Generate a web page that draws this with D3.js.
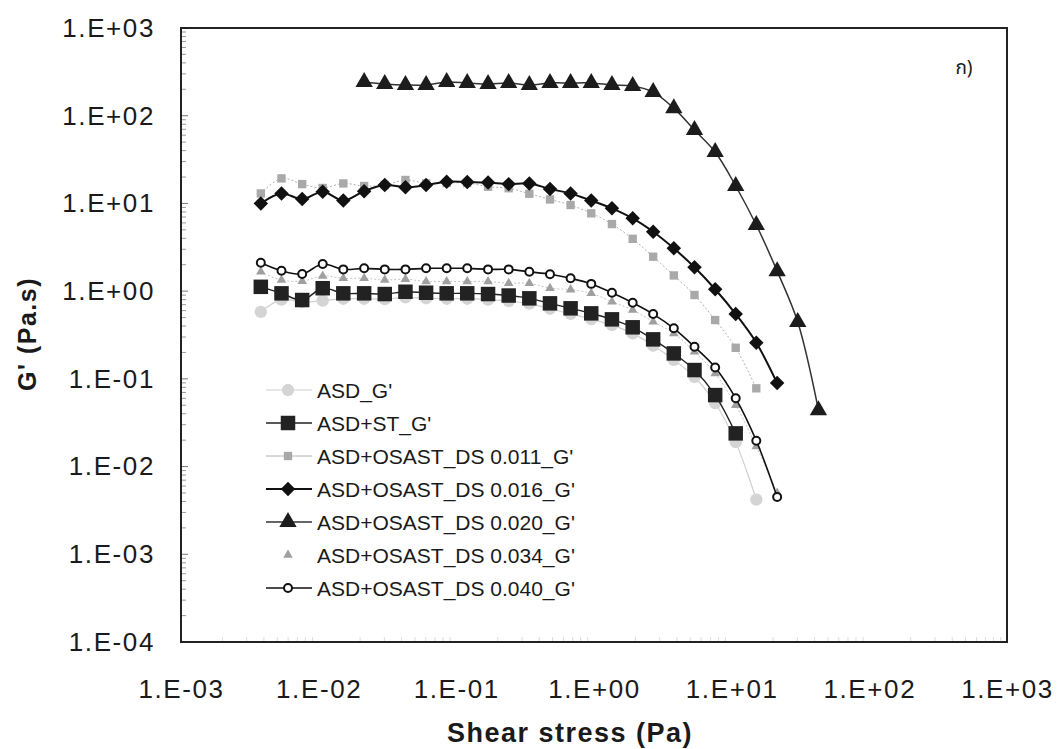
<!DOCTYPE html>
<html>
<head>
    <title>G' vs shear stress</title>
    <script src="https://d3js.org/d3.v7.min.js"></script>
    <style>
        body { margin: 0; background: #fff; }
        text { font-family: "Liberation Sans", Arial, sans-serif; fill: #1a1a1a; }
    </style>
</head>
<body>
<svg width="1062" height="749"></svg>
<script>
    // shear stress steps (Pa) shared by all samples
    const stress = [0.0038, 0.00537, 0.00759, 0.0107, 0.0151, 0.0214, 0.0302, 0.0427, 0.0603, 0.0851,
        0.120, 0.170, 0.240, 0.339, 0.479, 0.676, 0.955, 1.35, 1.91, 2.69,
        3.80, 5.37, 7.59, 10.7, 15.1, 21.4, 30.2, 42.7];

    const asd = [0.58, 0.80, 0.75, 0.78, 0.82, 0.82, 0.81, 0.85, 0.83, 0.82, 0.82, 0.80, 0.77, 0.72, 0.63,
        0.55, 0.48, 0.41, 0.33, 0.24, 0.165, 0.105, 0.053, 0.019, 0.0042, null, null, null];
    const asdSt = [1.12, 0.944, 0.792, 1.08, 0.944, 0.944, 0.927, 0.984, 0.959, 0.944, 0.944, 0.927, 0.891,
        0.828, 0.726, 0.637, 0.558, 0.477, 0.387, 0.282, 0.195, 0.126, 0.0653, 0.0239, null, null, null, null];
    const ds011 = [13.0, 19.3, 16.6, 15.0, 16.9, 15.8, 16.2, 18.5, 16.9, 17.1, 17.1, 15.5, 14.9, 12.9, 11.1,
        9.59, 7.71, 5.82, 3.95, 2.47, 1.51, 0.903, 0.468, 0.226, 0.078, null, null, null];
    const ds016 = [10.0, 13.0, 11.2, 13.6, 10.8, 13.8, 16.2, 15.3, 16.2, 17.7, 17.5, 17.3, 16.6, 16.9, 14.6,
        13.0, 10.8, 8.8, 6.76, 4.76, 3.08, 1.87, 1.05, 0.548, 0.258, 0.0895, null, null];
    const ds020 = [null, null, null, null, null, 242, 230, 224, 224, 242, 236, 230, 236, 224, 236, 236, 236,
        224, 218, 186, 122, 68.7, 38.5, 15.8, 5.67, 1.69, 0.444, 0.044];
    const ds034 = [1.66, 1.34, 1.30, 1.49, 1.40, 1.40, 1.34, 1.37, 1.29, 1.29, 1.29, 1.29, 1.23, 1.23, 1.08,
        1.04, 0.944, 0.757, 0.61, 0.448, 0.330, 0.204, 0.115, 0.05, 0.017, 0.005, null, null];
    const ds040 = [2.11, 1.71, 1.57, 2.04, 1.77, 1.82, 1.77, 1.77, 1.82, 1.82, 1.82, 1.77, 1.77, 1.66, 1.56,
        1.40, 1.21, 0.959, 0.738, 0.548, 0.377, 0.232, 0.135, 0.060, 0.0197, 0.0045, null, null];

    const seriesNames = ["ASD_G'", "ASD+ST_G'", "ASD+OSAST_DS 0.011_G'", "ASD+OSAST_DS 0.016_G'",
        "ASD+OSAST_DS 0.020_G'", "ASD+OSAST_DS 0.034_G'", "ASD+OSAST_DS 0.040_G'"];
    const seriesValues = [asd, asdSt, ds011, ds016, ds020, ds034, ds040];

    const xTicks = [1e-3, 1e-2, 1e-1, 1, 1e1, 1e2, 1e3];
    const xTickLabels = ["1.E-03", "1.E-02", "1.E-01", "1.E+00", "1.E+01", "1.E+02", "1.E+03"];
    const yTicks = [1e-4, 1e-3, 1e-2, 1e-1, 1, 1e1, 1e2, 1e3];
    const yTickLabels = ["1.E-04", "1.E-03", "1.E-02", "1.E-01", "1.E+00", "1.E+01", "1.E+02", "1.E+03"];

    // look of each series: marker shape, size, rotation, fill, stroke, line style
    const styles = [
        {shape: d3.symbolCircle, size: 120, rot: 0, fill: "#d4d4d4", stroke: "#d4d4d4", sw: 0, line: "#cfcfcf", lw: 1.2, dash: null},
        {shape: d3.symbolSquare, size: 210, rot: 0, fill: "#222", stroke: "#222", sw: 0, line: "#222", lw: 1.4, dash: null},
        {shape: d3.symbolSquare, size: 70, rot: 0, fill: "#a9a9a9", stroke: "#a9a9a9", sw: 0, line: "#b0b0b0", lw: 1, dash: "2,2"},
        {shape: d3.symbolSquare, size: 105, rot: 45, fill: "#111", stroke: "#111", sw: 0, line: "#111", lw: 2, dash: null},
        {shape: d3.symbolTriangle, size: 130, rot: 0, fill: "#1c1c1c", stroke: "#1c1c1c", sw: 0, line: "#333", lw: 1.5, dash: null},
        {shape: d3.symbolTriangle, size: 40, rot: 0, fill: "#a0a0a0", stroke: "#a0a0a0", sw: 0, line: "#c4c4c4", lw: 1, dash: "2,2"},
        {shape: d3.symbolCircle, size: 50, rot: 0, fill: "#fff", stroke: "#111", sw: 2, line: "#111", lw: 1.6, dash: null}
    ];

    const svg = d3.select("svg");
    const plotLeft = 181, plotRight = 1007, plotTop = 28, plotBottom = 642;

    const x = d3.scaleLog().domain([1e-3, 1e3]).range([plotLeft, plotRight]);
    const y = d3.scaleLog().domain([1e-4, 1e3]).range([plotBottom, plotTop]);

    // minor ticks inside the frame
    const minor = [];
    for (let e = -4; e < 3; e++) for (let m = 2; m <= 9; m++) minor.push(m * Math.pow(10, e));
    svg.append("g").selectAll("line").data(minor).enter().append("line")
        .attr("x1", plotLeft).attr("x2", plotLeft + 5)
        .attr("y1", d => y(d)).attr("y2", d => y(d))
        .attr("stroke", "#999").attr("stroke-width", 1);
    svg.append("g").selectAll("line").data(yTicks).enter().append("line")
        .attr("x1", plotLeft).attr("x2", plotLeft + 7)
        .attr("y1", d => y(d)).attr("y2", d => y(d))
        .attr("stroke", "#777").attr("stroke-width", 1);
    const minorX = [];
    for (let e = -3; e < 3; e++) for (let m = 2; m <= 9; m++) minorX.push(m * Math.pow(10, e));
    svg.append("g").selectAll("line").data(minorX).enter().append("line")
        .attr("x1", d => x(d)).attr("x2", d => x(d))
        .attr("y1", plotBottom).attr("y2", plotBottom - 5)
        .attr("stroke", "#dcdcdc").attr("stroke-width", 1);

    // axes (labels only, frame drawn separately)
    const xAxis = svg.append("g")
        .attr("transform", "translate(0," + plotBottom + ")")
        .call(d3.axisBottom(x).tickValues(xTicks).tickFormat((d, i) => xTickLabels[i]).tickSize(0).tickPadding(38));
    xAxis.select(".domain").remove();
    xAxis.selectAll("text").style("font-size", "26px").style("letter-spacing", "1.6px").attr("fill", "#1a1a1a");

    const yAxis = svg.append("g")
        .attr("transform", "translate(" + plotLeft + ",0)")
        .call(d3.axisLeft(y).tickValues(yTicks).tickFormat((d, i) => yTickLabels[i]).tickSize(0).tickPadding(26));
    yAxis.select(".domain").remove();
    yAxis.selectAll("text").style("font-size", "26px").style("letter-spacing", "1.6px").attr("fill", "#1a1a1a");

    // series
    const line = d3.line()
        .defined(d => d.v != null)
        .x(d => x(d.s))
        .y(d => y(d.v))
        .curve(d3.curveCatmullRom);

    seriesValues.forEach((vals, i) => {
        const st = styles[i];
        const pts = stress.map((s, j) => ({s: s, v: vals[j]}));
        svg.append("path")
            .datum(pts)
            .attr("d", line)
            .attr("fill", "none")
            .attr("stroke", st.line)
            .attr("stroke-width", st.lw)
            .attr("stroke-dasharray", st.dash);
        svg.append("g").selectAll("path")
            .data(pts.filter(d => d.v != null))
            .enter().append("path")
            .attr("transform", d => "translate(" + x(d.s) + "," + y(d.v) + ") rotate(" + st.rot + ")")
            .attr("d", d3.symbol().type(st.shape).size(st.size))
            .attr("fill", st.fill)
            .attr("stroke", st.stroke)
            .attr("stroke-width", st.sw);
    });

    // frame
    svg.append("rect")
        .attr("x", plotLeft).attr("y", plotTop)
        .attr("width", plotRight - plotLeft).attr("height", plotBottom - plotTop)
        .attr("fill", "none").attr("stroke", "#222").attr("stroke-width", 2);

    // legend
    const legend = svg.append("g").attr("transform", "translate(266,390)");
    seriesNames.forEach((name, i) => {
        const st = styles[i];
        const row = legend.append("g").attr("transform", "translate(0," + (i * 33) + ")");
        if (i !== 5) {
            row.append("line")
                .attr("x1", 0).attr("x2", 46).attr("y1", 0).attr("y2", 0)
                .attr("stroke", st.line).attr("stroke-width", st.lw);
        }
        row.append("path")
            .attr("transform", "translate(22,0) rotate(" + st.rot + ")")
            .attr("d", d3.symbol().type(st.shape).size(st.size))
            .attr("fill", st.fill).attr("stroke", st.stroke).attr("stroke-width", st.sw);
        row.append("text")
            .attr("x", 51).attr("y", 0).attr("dy", "0.36em")
            .style("font-size", "21px")
            .text(name);
    });

    // axis titles
    svg.append("text")
        .attr("x", 570).attr("y", 742)
        .attr("text-anchor", "middle")
        .style("font-size", "27px").style("font-weight", "bold").style("letter-spacing", "1.5px")
        .text("Shear stress (Pa)");
    svg.append("text")
        .attr("transform", "translate(36,334) rotate(-90)")
        .attr("text-anchor", "middle")
        .style("font-size", "25px").style("font-weight", "bold").style("letter-spacing", "1.5px")
        .text("G' (Pa.s)");

    // panel label
    svg.append("text")
        .attr("x", 964).attr("y", 74)
        .attr("text-anchor", "middle")
        .style("font-size", "19px")
        .style("font-family", "'Noto Sans Thai', 'Loma', 'Garuda', 'DejaVu Sans', sans-serif")
        .text("ก)");
</script>
</body>
</html>
